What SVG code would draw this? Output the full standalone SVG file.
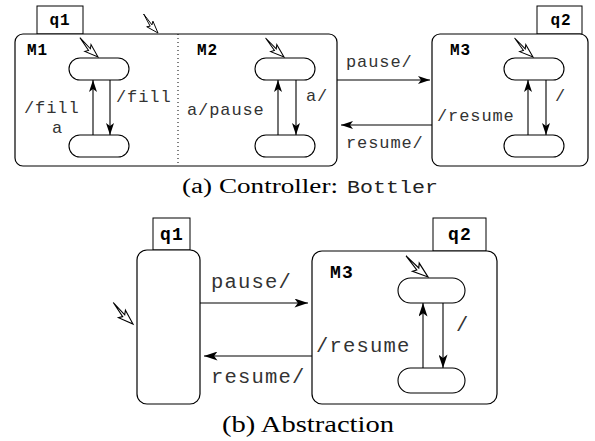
<svg xmlns="http://www.w3.org/2000/svg" xmlns:xlink="http://www.w3.org/1999/xlink" width="595" height="441" viewBox="0 0 595 441">
  <style>
    .box { fill: #fff; stroke: #000; stroke-width: 1.2; }
    .tab { fill: #fff; stroke: #000; stroke-width: 1; }
    .pill { fill: #fff; stroke: #000; stroke-width: 1.1; }
    .edge { fill: none; stroke: #000; stroke-width: 1.1; }
    .init { fill: #fff; stroke: #000; stroke-width: 1; stroke-linejoin: miter; }
    .lbl { font-family: "Liberation Mono", "DejaVu Sans Mono", monospace; font-size: 17px; letter-spacing: 0.9px; fill: #333; }
    .lbl2 { font-family: "Liberation Mono", "DejaVu Sans Mono", monospace; font-size: 20.5px; letter-spacing: 1.2px; fill: #333; }
    .nm { font-family: "Liberation Mono", "DejaVu Sans Mono", monospace; font-size: 16px; font-weight: bold; letter-spacing: 1px; fill: #000; }
    .nm2 { font-family: "Liberation Mono", "DejaVu Sans Mono", monospace; font-size: 18px; font-weight: bold; letter-spacing: 1.2px; fill: #000; }
    .cap { font-family: "Liberation Serif", "DejaVu Serif", serif; fill: #000; }
    .capt { font-family: "Liberation Mono", "DejaVu Sans Mono", monospace; fill: #222; }
  </style>
  <defs>
    <marker id="ah" viewBox="0 0 12 8" refX="12" refY="4" markerWidth="12" markerHeight="8" orient="auto" markerUnits="userSpaceOnUse">
      <path d="M0,0 L12,4 L0,8 L3,4 z" fill="#000"/>
    </marker>
    <marker id="ah2" viewBox="0 0 12 8" refX="12" refY="4" markerWidth="14" markerHeight="9" orient="auto" markerUnits="userSpaceOnUse">
      <path d="M0,0 L12,4 L0,8 L3,4 z" fill="#000"/>
    </marker>
    <!-- default-entry arrow, tip at origin pointing along +x -->
    <path id="init" class="init" d="M-26,-5 L-11,-2.2 L-13,-6 L0,0 L-14,3.2 L-11.5,0.2 Z"/>
  </defs>

  <!-- ===== (a) Controller: Bottler ===== -->
  <g id="q1-top">
    <rect class="tab" x="37" y="6" width="46" height="28"/>
    <text class="nm" x="60" y="25" text-anchor="middle">q1</text>
    <rect class="box" x="15" y="34" width="322" height="132" rx="8"/>
    <line x1="178" y1="34" x2="178" y2="166" stroke="#000" stroke-width="1" stroke-dasharray="1,3"/>
    <use xlink:href="#init" transform="translate(158,33) rotate(42) scale(0.9)"/>
  </g>

  <g id="M1">
    <text class="nm" x="27" y="55">M1</text>
    <use xlink:href="#init" transform="translate(98,57) rotate(36)"/>
    <rect class="pill" x="69" y="58" width="60" height="22" rx="11"/>
    <rect class="pill" x="69" y="135" width="60" height="22" rx="11"/>
  </g>

  <g id="M2">
    <text class="nm" x="197" y="55">M2</text>
    <use xlink:href="#init" transform="translate(284,57) rotate(35)"/>
    <rect class="pill" x="255" y="58" width="60" height="22" rx="11"/>
    <rect class="pill" x="255" y="135" width="60" height="22" rx="11"/>
  </g>

  <g id="q2-top">
    <rect class="tab" x="537" y="6" width="45" height="28"/>
    <text class="nm" x="561" y="25" text-anchor="middle">q2</text>
    <rect class="box" x="432" y="34" width="156" height="132" rx="8"/>
  </g>

  <g id="M3-top">
    <text class="nm" x="450" y="55">M3</text>
    <use xlink:href="#init" transform="translate(533,57) rotate(35)"/>
    <rect class="pill" x="504" y="58" width="60" height="22" rx="11"/>
    <rect class="pill" x="504" y="135" width="60" height="22" rx="11"/>
  </g>

  <!-- ===== (b) Abstraction ===== -->
  <g id="q1-bottom">
    <rect class="tab" x="153" y="218" width="37" height="32"/>
    <text class="nm2" x="172" y="240" text-anchor="middle">q1</text>
    <rect class="box" x="137" y="250" width="63" height="154" rx="10"/>
    <use xlink:href="#init" transform="translate(133,324) rotate(36.5) scale(1.1)"/>
  </g>

  <g id="q2-bottom">
    <rect class="tab" x="433" y="218" width="53" height="33"/>
    <text class="nm2" x="460" y="240" text-anchor="middle">q2</text>
    <rect class="box" x="312" y="251" width="185" height="153" rx="10"/>
  </g>

  <g id="M3-bottom">
    <text class="nm2" x="330" y="278">M3</text>
    <use xlink:href="#init" transform="translate(428,277) rotate(33) scale(1.15)"/>
    <rect class="pill" x="398" y="278" width="67" height="25" rx="12.5"/>
    <rect class="pill" x="398" y="368" width="67" height="25" rx="12.5"/>
  </g>

  <!-- transitions -->
  <g id="connectors">
    <!-- M1 -->
    <line class="edge" x1="93" y1="135" x2="93" y2="80" marker-end="url(#ah)"/>
    <line class="edge" x1="110" y1="80" x2="110" y2="135" marker-end="url(#ah)"/>
    <!-- M2 -->
    <line class="edge" x1="278" y1="135" x2="278" y2="80" marker-end="url(#ah)"/>
    <line class="edge" x1="296" y1="80" x2="296" y2="135" marker-end="url(#ah)"/>
    <!-- M3 top -->
    <line class="edge" x1="528" y1="135" x2="528" y2="80" marker-end="url(#ah)"/>
    <line class="edge" x1="546" y1="80" x2="546" y2="135" marker-end="url(#ah)"/>
    <!-- q1 <-> q2 top -->
    <line class="edge" x1="337" y1="80" x2="430" y2="80" marker-end="url(#ah)"/>
    <line class="edge" x1="432" y1="125" x2="341" y2="125" marker-end="url(#ah)"/>
    <!-- q1 <-> q2 bottom -->
    <line class="edge" x1="200" y1="303" x2="308" y2="303" marker-end="url(#ah2)"/>
    <line class="edge" x1="312" y1="356" x2="204" y2="356" marker-end="url(#ah2)"/>
    <!-- M3 bottom -->
    <line class="edge" x1="423" y1="368" x2="423" y2="303" marker-end="url(#ah2)"/>
    <line class="edge" x1="443" y1="303" x2="443" y2="368" marker-end="url(#ah2)"/>
  </g>

  <g id="labels">
    <text class="lbl" x="116" y="102">/fill</text>
    <text class="lbl" x="24" y="113">/fill</text>
    <text class="lbl" x="52" y="133">a</text>
    <text class="lbl" x="306" y="101">a/</text>
    <text class="lbl" x="187" y="115">a/pause</text>
    <text class="lbl" x="555" y="101">/</text>
    <text class="lbl" x="437" y="121">/resume</text>
    <text class="lbl" x="346" y="67">pause/</text>
    <text class="lbl" x="346" y="148">resume/</text>

    <text class="lbl2" x="211" y="288">pause/</text>
    <text class="lbl2" x="211" y="383">resume/</text>
    <text class="lbl2" x="316" y="352">/resume</text>
    <text class="lbl2" x="456" y="331">/</text>
  </g>

  <g id="captions">
    <text class="cap" x="182" y="193" font-size="20" textLength="156" lengthAdjust="spacingAndGlyphs">(a) Controller:</text>
    <text class="capt" x="347" y="193" font-size="19" textLength="91" lengthAdjust="spacingAndGlyphs">Bottler</text>
    <text class="cap" x="222" y="432" font-size="24" textLength="172" lengthAdjust="spacingAndGlyphs">(b) Abstraction</text>
  </g>
</svg>
